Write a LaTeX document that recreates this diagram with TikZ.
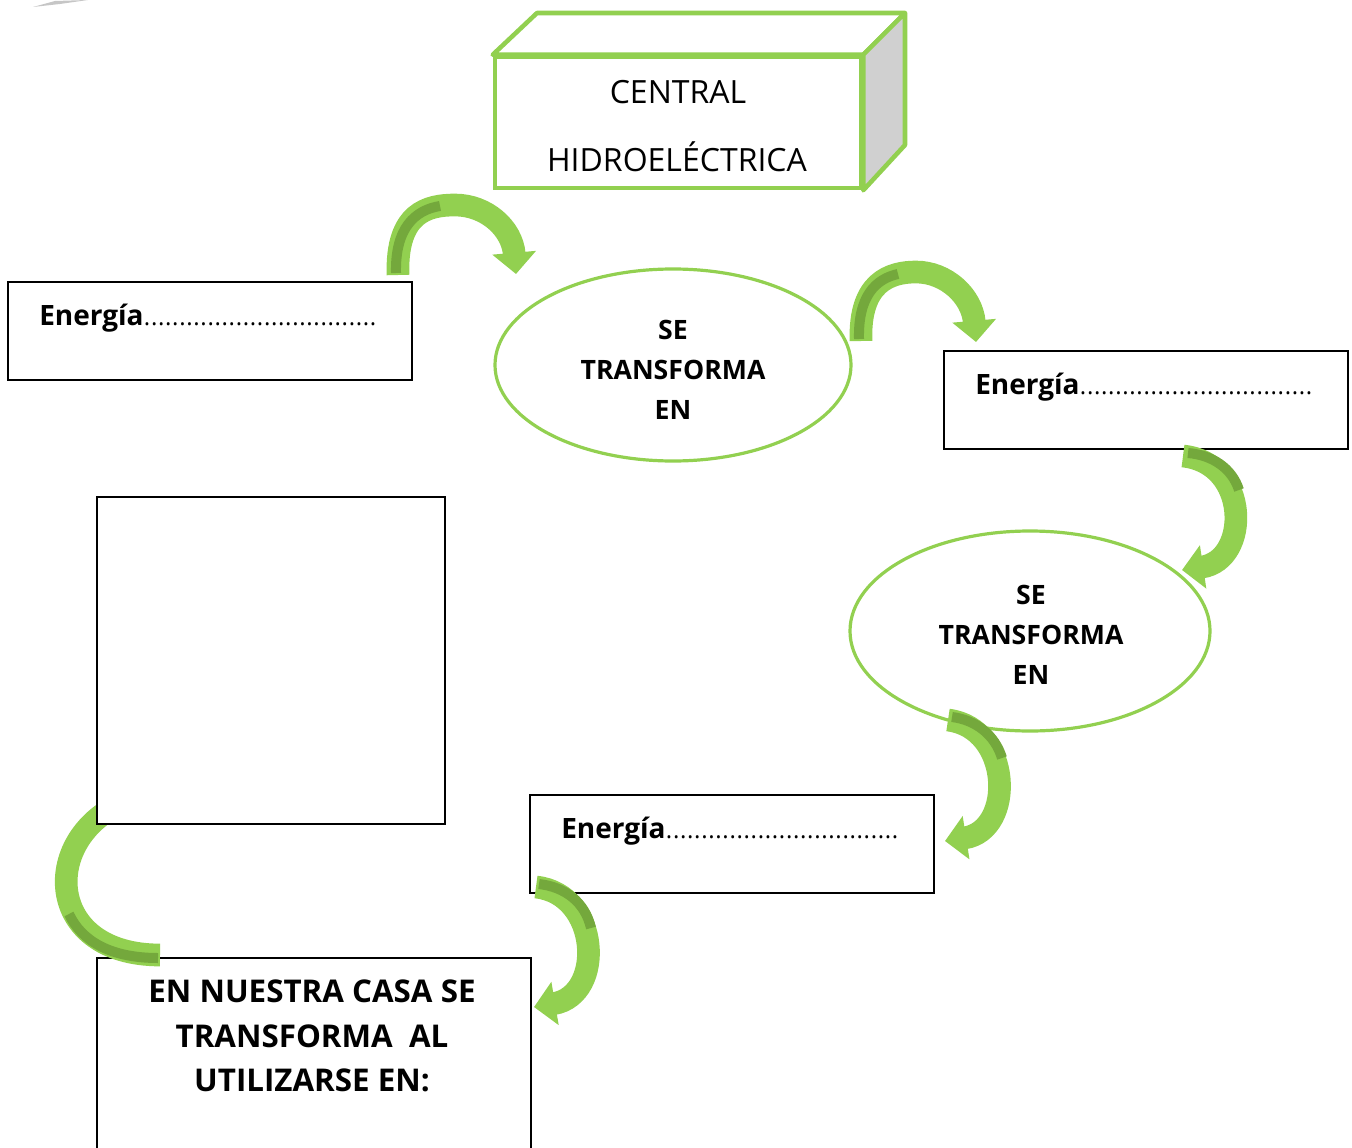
\documentclass[tikz,border=0pt]{standalone}
\usepackage{fontspec}
\setmainfont{Open Sans}
\usetikzlibrary{arrows.meta,shapes.geometric}
\definecolor{lg}{HTML}{92D050}
\definecolor{dg}{HTML}{74A83C}
\definecolor{sidegray}{HTML}{D0D0D0}
\newcommand{\dd}{\hbox to 5.3pt{\hss.\hss}}
\newcommand{\mydots}{{\mdseries\fontsize{18}{22}\selectfont\dd\dd\dd\dd\dd\dd\dd\dd\dd\dd\dd\dd\dd\dd\dd\dd\dd\dd\dd\dd\dd\dd\dd\dd\dd\dd\dd\dd\dd\dd\dd\dd\dd}}
\tikzset{
 ebox/.style={draw=black, line width=1.1pt, fill=white, inner sep=0pt},
 oval/.style={ellipse, draw=lg, line width=2.4pt, fill=white, inner sep=0pt},
 garrow/.style={draw=lg, line width=17pt, -{Triangle[width={32pt 0 0},length={16pt 0 0}]}},
 gstripe/.style={draw=dg, line width=7.5pt},
 etext/.style={font=\bfseries\fontsize{21}{25}\selectfont, anchor=base west, inner sep=0pt},
 otext/.style={font=\bfseries\fontsize{20}{30}\selectfont, align=center, inner sep=0pt},
 ctext/.style={font=\fontsize{24}{28}\selectfont, inner sep=0pt},
}
\begin{document}
\begin{tikzpicture}[x=0.75pt,y=-0.75pt]
\useasboundingbox (0,0) rectangle (1352,1148);
% small smudge
\fill[gray!45] (33,7) -- (55,1) -- (88,0) -- (60,4) -- cycle;
% 3D box
\node[draw=lg, line width=3.4pt, fill=white, minimum width=274.5pt, minimum height=98.25pt] (central) at (678,122.5) {};
\draw[draw=lg, line width=3.4pt, fill=white, line join=round] (central.north west) -- (537,13) -- (905,13) -- (central.north east) -- cycle;
\draw[draw=lg, line width=3.4pt, fill=sidegray, line join=round] (central.north east) -- (905,13) -- (905,145) -- (central.south east) -- cycle;
\node[ctext] (c1) at (678,92) {CENTRAL};
\node[ctext] (c2) at (677,157) {HIDROELÉCTRICA};
% boxes
\node[ebox, minimum width=303pt, minimum height=73.5pt] (b1) at (210,331) {};
\node[etext] (t1) at (39,325) {Energía\mydots};
\node[ebox, minimum width=303pt, minimum height=73.5pt] (b2) at (1146,400) {};
\node[etext] (t2) at (975,394) {Energía\mydots};
\node[ebox, minimum width=303pt, minimum height=73.5pt] (b3) at (732,844) {};
\node[etext] (t3) at (561,838) {Energía\mydots};
% ellipses
\node[oval, minimum width=267pt, minimum height=144pt] (e1) at (673,365) {};
\node[otext] (o1) at (673,370) {SE\\TRANSFORMA\\EN};
\node[oval, minimum width=270pt, minimum height=150pt] (e2) at (1030,631) {};
\node[otext] (o2) at (1031,635) {SE\\TRANSFORMA\\EN};
% bottom box
\node[ebox, minimum width=325.5pt, minimum height=180pt] (b5) at (314,1078) {};
\node[font=\bfseries\fontsize{23.5}{33.4}\selectfont, align=center, inner sep=0pt] (t5) at (312,1036) {EN NUESTRA CASA SE\\TRANSFORMA\ \ AL\\UTILIZARSE EN:};
% arrow end points
\coordinate (a1s) at (398,275); \coordinate (a1e) at (516,274);
\coordinate (a2s) at (861,341); \coordinate (a2e) at (976,342);
\coordinate (a3s) at (1183,456); \coordinate (a3e) at (1182,570);
\coordinate (a4s) at (948,720); \coordinate (a4e) at (945,841);
\coordinate (a5s) at (536,887); \coordinate (a5e) at (534,1007);
\coordinate (a6s) at (160,955); \coordinate (a6e) at (140,795);
% arrow 1
\draw[garrow] (a1s) .. controls (396,212) and (428,205) .. (455,205) .. controls (486,205) and (512,228) .. (a1e);
\draw[gstripe] (396,273) .. controls (395,228) and (415,210) .. (440,206);
% arrow 2
\draw[garrow] (a2s) .. controls (859,282) and (890,272) .. (916,272) .. controls (946,272) and (972,296) .. (a2e);
\draw[gstripe] (859,339) .. controls (858,297) and (875,279) .. (898,274);
% arrow 3
\draw[garrow] (a3s) .. controls (1250,463) and (1250,560) .. (a3e);
\draw[gstripe] (1188,453) .. controls (1212,455) and (1232,468) .. (1239,490);
% arrow 4
\draw[garrow] (a4s) .. controls (1012,728) and (1015,830) .. (a4e);
\draw[gstripe] (952,717) .. controls (976,720) and (995,735) .. (1002,758);
% arrow 5
\draw[garrow] (a5s) .. controls (600,894) and (605,995) .. (a5e);
\draw[gstripe] (539,884) .. controls (565,887) and (585,902) .. (591,928);
% arrow 6
\draw[garrow] (a6s) .. controls (45,955) and (40,840) .. (a6e);
\draw[gstripe] (158,958) .. controls (112,958) and (82,942) .. (69,914);
% empty box on top
\node[ebox, minimum width=261pt, minimum height=245.25pt] (b4) at (271,660.5) {};
\end{tikzpicture}
\end{document}
